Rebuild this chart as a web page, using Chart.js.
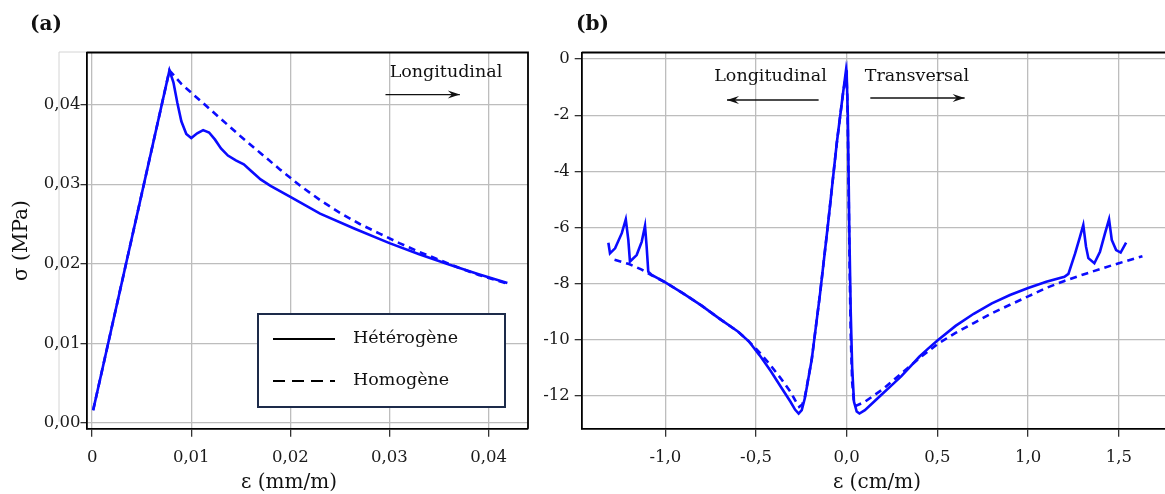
<!DOCTYPE html>
<html>
<head>
<meta charset="utf-8">
<script src="https://cdn.jsdelivr.net/npm/chart.js@4.4.1/dist/chart.umd.min.js"></script>
<style>
  html, body { margin: 0; padding: 0; background: #fff; overflow: hidden; width: 1165px; height: 494px; }
  #chartA { position: absolute; left: 0; top: 0; }
  #chartB { position: absolute; left: 530px; top: 0; }
</style>
</head>
<body>
<canvas id="chartA" width="545" height="494"></canvas>
<canvas id="chartB" width="650" height="494"></canvas>
<script>
/* ===== PANEL (a) DATA : sigma (MPa) vs epsilon (mm/m) ===== */
const SERIES_NAMES = ["Hétérogène", "Homogène"];

const A_HET_X = [0.0001, 0.0078, 0.0082, 0.0086, 0.0090, 0.0095, 0.0100, 0.0106, 0.0112, 0.0118,
  0.0124, 0.0130, 0.0137, 0.0145, 0.0153, 0.0161, 0.0170, 0.0180, 0.0200, 0.0230, 0.0265,
  0.0300, 0.0330, 0.0360, 0.0390, 0.0419];
const A_HET_Y = [0.0016, 0.0443, 0.0428, 0.0402, 0.0379, 0.0363, 0.0358, 0.0364, 0.0368, 0.0365,
  0.0356, 0.0345, 0.0336, 0.0330, 0.0325, 0.0316, 0.0306, 0.0298, 0.0284, 0.0263, 0.0244,
  0.0226, 0.0212, 0.0199, 0.0187, 0.0176];

const A_HOM_X = [0.0001, 0.0078, 0.0090, 0.0110, 0.0130, 0.0150, 0.0170, 0.0190, 0.0210, 0.0230,
  0.0250, 0.0270, 0.0290, 0.0310, 0.0330, 0.0350, 0.0370, 0.0390, 0.0419];
const A_HOM_Y = [0.0016, 0.0443, 0.0426, 0.0404, 0.0382, 0.0360, 0.0339, 0.0318, 0.0298, 0.0280,
  0.0264, 0.0250, 0.0238, 0.0226, 0.0215, 0.0205, 0.0195, 0.0186, 0.0175];

const A_X_TICKS = [0, 0.01, 0.02, 0.03, 0.04];
const A_X_LABELS = ["0", "0,01", "0,02", "0,03", "0,04"];
const A_Y_TICKS = [0, 0.01, 0.02, 0.03, 0.04];
const A_Y_LABELS = ["0,00", "0,01", "0,02", "0,03", "0,04"];

/* ===== PANEL (b) DATA : sigma vs epsilon (cm/m) ===== */
const B_HET_X = [-1.314, -1.305, -1.277, -1.240, -1.218, -1.204, -1.195, -1.158, -1.130, -1.112,
  -1.103, -1.094, -1.075, -1.00, -0.90, -0.80, -0.70, -0.60, -0.54, -0.48, -0.42, -0.36, -0.31,
  -0.285, -0.265, -0.248, -0.23, -0.193, -0.147, -0.101, -0.055, -0.02, -0.004, 0.000, 0.006,
  0.014, 0.022, 0.030, 0.040, 0.055, 0.070, 0.10, 0.15, 0.20, 0.25, 0.30, 0.35, 0.40, 0.45, 0.50,
  0.60, 0.70, 0.80, 0.90, 1.00, 1.10, 1.20, 1.222, 1.259, 1.286, 1.304, 1.319, 1.332, 1.365,
  1.396, 1.424, 1.446, 1.461, 1.485, 1.51, 1.54];
const B_HET_Y = [-6.54, -6.92, -6.74, -6.20, -5.71, -6.44, -7.21, -6.98, -6.50, -5.94,
  -6.68, -7.57, -7.69, -7.95, -8.35, -8.78, -9.25, -9.70, -10.05, -10.55, -11.1, -11.7, -12.2,
  -12.48, -12.62, -12.5, -12.05, -10.7, -8.35, -5.75, -3.0, -1.2, -0.4, -0.6, -2.0,
  -6.0, -9.0, -11.0, -12.2, -12.55, -12.62, -12.5, -12.2, -11.9, -11.6, -11.3, -10.95, -10.6, -10.3, -10.02,
  -9.5, -9.07, -8.7, -8.4, -8.15, -7.93, -7.75, -7.65, -6.92, -6.32, -5.91, -6.68, -7.09, -7.27,
  -6.86, -6.2, -5.71, -6.44, -6.80, -6.89, -6.54];

const B_HOM_X = [-1.28, -1.20, -1.13, -1.075, -1.00, -0.90, -0.80, -0.70, -0.60, -0.54, -0.48,
  -0.42, -0.36, -0.31, -0.28, -0.262, -0.245, -0.23, -0.193, -0.147, -0.101, -0.055, -0.02,
  -0.002, 0.004, 0.010, 0.016, 0.022, 0.030, 0.040, 0.050, 0.10, 0.20, 0.30, 0.40, 0.50, 0.60,
  0.70, 0.80, 0.90, 1.00, 1.10, 1.20, 1.30, 1.40, 1.50, 1.63];
const B_HOM_Y = [-7.15, -7.3, -7.5, -7.70, -7.95, -8.35, -8.78, -9.25, -9.70, -10.05, -10.45,
  -10.9, -11.4, -11.85, -12.2, -12.38, -12.3, -12.0, -10.7, -8.35, -5.75, -3.0, -1.2,
  -0.5, -1.5, -4.5, -7.5, -9.8, -11.5, -12.25, -12.35, -12.2, -11.75, -11.2, -10.65, -10.15, -9.75,
  -9.4, -9.05, -8.75, -8.45, -8.15, -7.9, -7.68, -7.47, -7.27, -7.02];

const B_X_TICKS = [-1.0, -0.5, 0.0, 0.5, 1.0, 1.5];
const B_X_LABELS = ["-1,0", "-0,5", "0,0", "0,5", "1,0", "1,5"];
const B_Y_TICKS = [-12, -10, -8, -6, -4, -2, 0];
const B_Y_LABELS = ["-12", "-10", "-8", "-6", "-4", "-2", "0"];

/* ===== STYLE ===== */
const FONT = "'DejaVu Serif', serif";
const BLUE = "#0b0bff";

/* ===== HELPERS ===== */
function pts(xs, ys) {
  return xs.map((x, i) => ({ x, y: ys[i] }));
}

function makeScale(axis, ticks, labels, min, max, size, tickLen, pad) {
  return {
    type: "linear",
    min,
    max,
    afterBuildTicks: (s) => { s.ticks = ticks.map((v) => ({ value: v })); },
    afterFit: (s) => { if (axis === "x") s.height = size; else s.width = size; },
    ticks: {
      callback: (v, i) => labels[i],
      font: { family: FONT, size: 16.5 },
      color: "#1a1a1a",
      padding: pad,
      maxRotation: 0,
      autoSkip: false,
    },
    grid: { color: "#bdbdbd", lineWidth: 1.3, tickLength: tickLen, tickColor: "#333" },
    border: { display: true, color: "#000", width: 1.8 },
  };
}

function lineSet(label, data, dashed) {
  return {
    label,
    data,
    borderColor: BLUE,
    borderWidth: 2.6,
    borderDash: dashed ? [7, 5] : [],
    pointRadius: 0,
    tension: 0,
    fill: false,
  };
}

function arrow(ctx, x1, y1, x2, y2) {
  ctx.beginPath();
  ctx.moveTo(x1, y1);
  ctx.lineTo(x2, y2);
  ctx.stroke();
  const a = Math.atan2(y2 - y1, x2 - x1);
  const L = 12, W = 4;
  const c = Math.cos(a), s = Math.sin(a);
  ctx.beginPath();
  ctx.moveTo(x2, y2);
  ctx.lineTo(x2 - L * c + W * s, y2 - L * s - W * c);
  ctx.lineTo(x2 - 0.65 * L * c, y2 - 0.65 * L * s);
  ctx.lineTo(x2 - L * c - W * s, y2 - L * s + W * c);
  ctx.closePath();
  ctx.fill();
}

/* ===== DECORATION PLUGIN (frame, titles, notes, legend) ===== */
const decor = {
  id: "decor",
  beforeDraw(chart, args, o) {
    if (!o.ghostX) return;
    const { ctx, chartArea: ca } = chart;
    ctx.save();
    ctx.strokeStyle = "#d4d4d4";
    ctx.lineWidth = 1;
    ctx.beginPath();
    ctx.moveTo(ca.left, ca.top - 0.5);
    ctx.lineTo(o.ghostX, ca.top - 0.5);
    ctx.lineTo(o.ghostX, ca.bottom - 7);
    ctx.stroke();
    ctx.restore();
  },
  afterDraw(chart, args, o) {
    const { ctx, chartArea: ca, scales } = chart;
    const xs = scales.x, ys = scales.y;
    ctx.save();

    // rest of the frame
    ctx.strokeStyle = "#000";
    ctx.lineWidth = 1.8;
    ctx.beginPath();
    ctx.moveTo(ca.left, ca.top);
    ctx.lineTo(ca.right, ca.top);
    ctx.lineTo(ca.right, ca.bottom);
    ctx.stroke();

    // panel tag
    ctx.fillStyle = "#111";
    ctx.font = `bold 20px ${FONT}`;
    ctx.textAlign = "left";
    ctx.textBaseline = "middle";
    ctx.fillText(o.tag, o.tagX, 25);

    // axis titles
    ctx.font = `20px ${FONT}`;
    ctx.textAlign = "center";
    ctx.fillText(o.xTitle, o.xTitleX, 483);
    if (o.yTitle) {
      ctx.save();
      ctx.translate(o.yTitleX, (ca.top + ca.bottom) / 2);
      ctx.rotate(-Math.PI / 2);
      ctx.fillText(o.yTitle, 0, 0);
      ctx.restore();
    }

    // direction notes
    ctx.font = `17.5px ${FONT}`;
    ctx.textBaseline = "alphabetic";
    ctx.fillStyle = "#111";
    ctx.strokeStyle = "#111";
    ctx.lineWidth = 1.3;
    (o.notes || []).forEach((n) => {
      ctx.fillText(n.text, xs.getPixelForValue(n.x), ys.getPixelForValue(n.y));
      arrow(ctx, xs.getPixelForValue(n.ax1), ys.getPixelForValue(n.ay),
        xs.getPixelForValue(n.ax2), ys.getPixelForValue(n.ay));
    });

    // legend box
    if (o.legend) {
      const b = o.legend;
      ctx.fillStyle = "#fff";
      ctx.fillRect(b.left, b.top, b.width, b.height);
      ctx.strokeStyle = "#1d2b4a";
      ctx.lineWidth = 2;
      ctx.strokeRect(b.left, b.top, b.width, b.height);
      chart.data.datasets.forEach((d, i) => {
        const y = b.top + b.rowTop + i * b.rowGap;
        ctx.strokeStyle = "#000";
        ctx.lineWidth = 2;
        ctx.setLineDash(i === 1 ? [12, 7] : []);
        ctx.beginPath();
        ctx.moveTo(b.left + 15, y);
        ctx.lineTo(b.left + 77, y);
        ctx.stroke();
        ctx.setLineDash([]);
        ctx.fillStyle = "#111";
        ctx.font = `17.5px ${FONT}`;
        ctx.textAlign = "left";
        ctx.textBaseline = "middle";
        ctx.fillText(d.label, b.left + 95, y - 1);
      });
    }
    ctx.restore();
  },
};

/* ===== CHART (a) ===== */
new Chart(document.getElementById("chartA"), {
  type: "line",
  data: {
    datasets: [
      lineSet(SERIES_NAMES[0], pts(A_HET_X, A_HET_Y), false),
      lineSet(SERIES_NAMES[1], pts(A_HOM_X, A_HOM_Y), true),
    ],
  },
  options: {
    responsive: false,
    animation: false,
    events: [],
    layout: { padding: { left: 0, top: 52.5, right: 17, bottom: 0 } },
    scales: {
      x: makeScale("x", A_X_TICKS, A_X_LABELS, -0.00057, 0.04398, 65.3, 8, 11),
      y: makeScale("y", A_Y_TICKS, A_Y_LABELS, -0.00072, 0.04655, 86.5, 6, 0),
    },
    plugins: {
      legend: { display: false },
      tooltip: { enabled: false },
      decor: {
        tag: "(a)", tagX: 30,
        xTitle: "ε (mm/m)", xTitleX: 289,
        yTitle: "σ (MPa)", yTitleX: 22,
        ghostX: 59,
        notes: [{ text: "Longitudinal", x: 0.0357, y: 0.04346, ax1: 0.0296, ax2: 0.0371, ay: 0.04126 }],
        legend: { left: 258, top: 314, width: 247, height: 93, rowTop: 25, rowGap: 42 },
      },
    },
  },
  plugins: [decor],
});

/* ===== CHART (b) ===== */
new Chart(document.getElementById("chartB"), {
  type: "line",
  data: {
    datasets: [
      lineSet(SERIES_NAMES[0], pts(B_HET_X, B_HET_Y), false),
      lineSet(SERIES_NAMES[1], pts(B_HOM_X, B_HOM_Y), true),
    ],
  },
  options: {
    responsive: false,
    animation: false,
    events: [],
    layout: { padding: { left: 0, top: 52.5, right: 8, bottom: 0 } },
    scales: {
      x: makeScale("x", B_X_TICKS, B_X_LABELS, -1.461, 1.793, 65.3, 8, 11),
      y: makeScale("y", B_Y_TICKS, B_Y_LABELS, -13.16, 0.23, 51.7, 7, 5),
    },
    plugins: {
      legend: { display: false },
      tooltip: { enabled: false },
      decor: {
        tag: "(b)", tagX: 46,
        xTitle: "ε (cm/m)", xTitleX: 347,
        notes: [
          { text: "Longitudinal", x: -0.42, y: -0.8, ax1: -0.155, ax2: -0.66, ay: -1.46 },
          { text: "Transversal", x: 0.387, y: -0.8, ax1: 0.13, ax2: 0.65, ay: -1.39 },
        ],
      },
    },
  },
  plugins: [decor],
});
</script>
</body>
</html>
